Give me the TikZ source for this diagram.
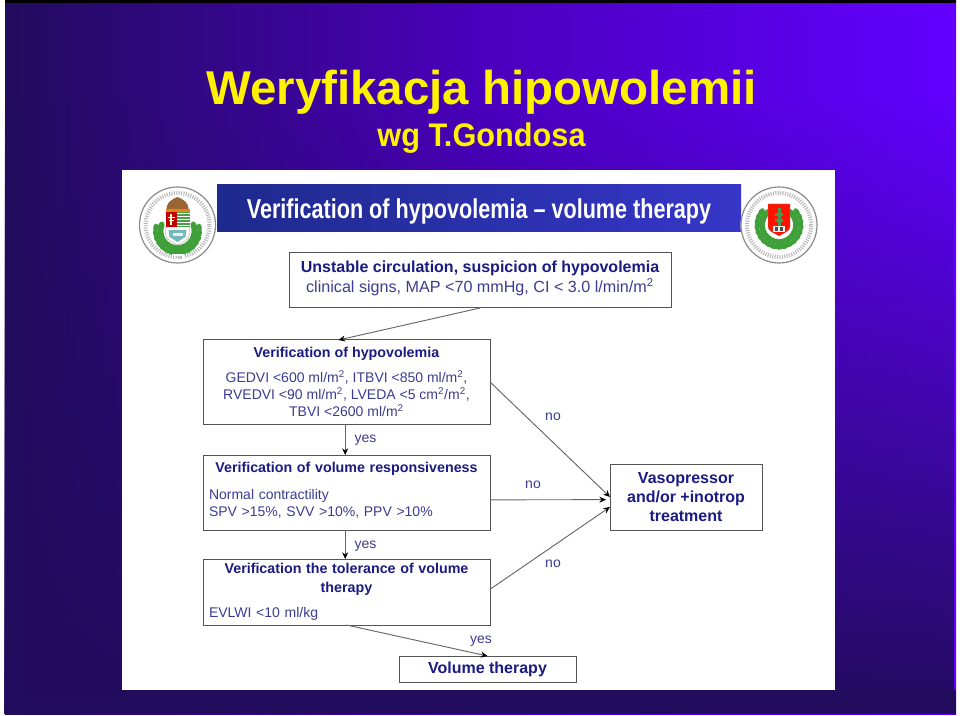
\documentclass[tikz,border=0pt]{standalone}
\usepackage{fontspec}
\usepackage{graphicx}
\setmainfont{Liberation Sans}
\newfontfamily\sealfont{Liberation Serif}
\usetikzlibrary{arrows.meta,fadings,calc}
\definecolor{bgdark}{HTML}{220C5E}
\definecolor{bgmid}{HTML}{4A00BC}
\definecolor{bgbright}{HTML}{6200FF}
\definecolor{barL}{HTML}{1E2A8C}
\definecolor{barR}{HTML}{3636C8}
\definecolor{headc}{HTML}{1B1B82}
\definecolor{bodyc}{HTML}{3C3C92}
\definecolor{linec}{HTML}{666666}
\definecolor{boxc}{HTML}{555555}
\definecolor{laurel}{HTML}{3FA03A}
\definecolor{sealc}{HTML}{8A8A8A}
\tikzfading[name=bgfade,top color=transparent!100,bottom color=transparent!0]
\newcommand{\hd}[1]{{\fontsize{10.7pt}{12.75pt}\selectfont\bfseries\color{headc}#1}}
\newcommand{\hdb}[1]{{\fontsize{12pt}{15pt}\selectfont\bfseries\color{headc}#1}}
\newcommand{\sq}{\textsuperscript{2}}
\tikzset{
  flowbox/.style={draw=boxc,line width=.75pt,fill=white,inner sep=0pt,outer sep=0pt,
    font=\fontsize{10.5pt}{12.75pt}\selectfont,text=bodyc},
  flowarrow/.style={draw=linec,line width=.7pt,-{Stealth[length=5pt,width=4.5pt,color=black]}},
  lab/.style={font=\fontsize{10.5pt}{12pt}\selectfont,text=bodyc,inner sep=0pt},
  titlefont/.style={text=yellow,inner sep=0pt},
  leaf/.style={fill=laurel}
}
% ring and wreath of a seal; #1 = y of wreath centre, #2 = last angle left, #3 = last angle right
\newcommand{\sealring}[3]{%
  \fill[white] (0,0) circle (38.5);
  \draw[sealc,line width=.9pt] (0,0) circle (38);
  \draw[sealc!60,line width=3pt,dash pattern=on .8pt off 1pt] (0,0) circle (32);
  \foreach \aa in {262,248,...,#2} {
    \fill[leaf,shift={(0,#1)},rotate=\aa] (17,0) ellipse (3.2 and 5);
    \fill[leaf,shift={(0,#1)},rotate=\aa+7] (22,0) ellipse (2.6 and 4);
  }
  \foreach \aa in {-82,-68,...,#3} {
    \fill[leaf,shift={(0,#1)},rotate=\aa] (17,0) ellipse (3.2 and 5);
    \fill[leaf,shift={(0,#1)},rotate=\aa-7] (22,0) ellipse (2.6 and 4);
  }
}
\begin{document}
\begin{tikzpicture}[x=.75pt,y=-.75pt]
\useasboundingbox (0,0) rectangle (960,716);
\fill[white] (0,0) rectangle (960,716);
% slide background
\shade[left color=bgdark,right color=bgbright,middle color=bgmid,shading angle=90] (5,0) rectangle (956,714);
\fill[bgdark,path fading=bgfade] (5,100) rectangle (956,714);
\fill[bgdark] (5,690) rectangle (956,714);
\fill[black] (5,0) rectangle (956,3);
% titles
\node[titlefont,font=\fontsize{35.6pt}{40pt}\selectfont\bfseries] (title) at (481.5,92) {Weryfikacja hipowolemii};
\node[titlefont,font=\fontsize{24.5pt}{28pt}\selectfont\bfseries] (subtitle) at (481.5,138) {\scalebox{.94}[1]{wg T.Gondosa}};
% white panel
\fill[white] (122,170) rectangle (835,690);
\shade[left color=barL,right color=barR] (217,185) rectangle (741,232);
\node[inner sep=0pt,text=white,font=\fontsize{20.5pt}{24pt}\selectfont\bfseries] (bar) at (479,211) {\scalebox{.79}[1]{Verification of hypovolemia -- volume therapy}};
% left seal
\begin{scope}[shift={(177.5,225)},x=.75pt,y=.75pt]
  \sealring{-6}{164}{16}
  \fill[white] (-6,-36) rectangle (6,-29);
  \node[inner sep=0pt,font=\fontsize{3.6pt}{4pt}\sealfont\bfseries,text=sealc] (sealyear) at (0,-32.5) {1769};
  \fill[white,draw=sealc,line width=.2pt] (-12,-2) -- (12,-2) -- (12,-9) .. controls (12,-15) and (5,-17) .. (0,-20) .. controls (-5,-17) and (-12,-15) .. (-12,-9) -- cycle;
  \fill[teal!55] (-9,-5) -- (9,-5) -- (8,-12) -- (0,-17) -- (-8,-12) -- cycle;
  \fill[white!85!gray] (-5,-11) rectangle (5,-8);
  \fill[red!75!black] (-12,-2) rectangle (-1,13);
  \fill[white!85!yellow] (-7.2,0) rectangle (-5.8,11);
  \fill[white!85!yellow] (-10,6.5) rectangle (-3,7.8);
  \fill[white!85!yellow] (-9,3.5) rectangle (-4,4.6);
  \fill[green!45!black!70] (-1,-2) rectangle (12,13);
  \foreach \yy in {0,3,6,9,12} \draw[white,line width=.5pt] (-1,\yy) -- (12,\yy);
  \fill[brown!80!black] (-11,13) .. controls (-12,23) and (-5,26) .. (0,28) .. controls (5,26) and (12,23) .. (11,13) -- cycle;
  \fill[orange!70!brown] (-12,13) rectangle (12,16);
\end{scope}
% right seal
\begin{scope}[shift={(779,225)},x=.75pt,y=.75pt]
  \sealring{0}{136}{44}
  \fill[red!85!orange,draw=sealc,line width=.2pt] (-11,21) -- (11,21) -- (11,-2) .. controls (11,-6) and (5,-8) .. (0,-11) .. controls (-5,-8) and (-11,-6) .. (-11,-2) -- cycle;
  \fill[green!40!black!70] (-1.5,17) rectangle (1.5,-2);
  \fill[green!40!black!70] (-4,12) rectangle (4,9);
  \fill[green!40!black!70] (-4,6) rectangle (4,3);
  \fill[white!85!gray] (-6,-7) rectangle (6,-1);
  \fill[black!70] (-4,-6) rectangle (-.7,-2);
  \fill[black!70] (.7,-6) rectangle (4,-2);
\end{scope}
% flow boxes
\node[flowbox,align=center,font=\fontsize{12.1pt}{15pt}\selectfont,minimum width=382*.75pt,minimum height=55*.75pt] (unstable) at (480,280.5)
  {\hdb{Unstable circulation, suspicion of hypovolemia}\\clinical signs, MAP <70 mmHg, CI < 3.0 l/min/m\sq\\[-9.7pt]\mbox{}};
\node[flowbox,align=center,minimum width=287*.75pt,minimum height=84*.75pt] (hypo) at (346.5,382)
  {\hd{Verification of hypovolemia}\\[6pt]GEDVI <600 ml/m\sq, ITBVI <850 ml/m\sq,\\RVEDVI <90 ml/m\sq, LVEDA <5 cm\sq/m\sq,\\TBVI <2600 ml/m\sq};
\node[flowbox,align=left,text width=275*.75pt,minimum width=287*.75pt,minimum height=75*.75pt] (resp) at (346.5,492.5)
  {\makebox[\linewidth][c]{\hd{Verification of volume responsiveness}}\\[7pt]Normal contractility\\SPV >15\%, SVV >10\%, PPV >10\%\\[-8pt]\mbox{}};
\node[flowbox,align=left,text width=275*.75pt,minimum width=287*.75pt,minimum height=66*.75pt] (toler) at (346.5,592)
  {\makebox[\linewidth][c]{\hd{Verification the tolerance of volume}}\\[1pt]\makebox[\linewidth][c]{\hd{therapy}}\\[6.5pt]EVLWI <10 ml/kg};
\node[flowbox,minimum width=177*.75pt,minimum height=26*.75pt,font=\fontsize{12pt}{14pt}\selectfont\bfseries,text=headc] (volume) at (487.5,669) {\raisebox{-1.2pt}{Volume therapy}};
\node[flowbox,align=center,minimum width=152*.75pt,minimum height=66*.75pt,font=\fontsize{12pt}{14.5pt}\selectfont\bfseries,text=headc] (vaso) at (686,497) {Vasopressor\\and/or +inotrop\\treatment};
% connectors
\draw[flowarrow] (unstable.south) -- ([xshift=-6pt]hypo.north);
\draw[flowarrow] ([xshift=-1pt]hypo.south) -- ([xshift=-1pt]resp.north);
\draw[flowarrow] ([xshift=-1pt]resp.south) -- ([xshift=-1pt]toler.north);
\draw[flowarrow] (hypo.east) -- (vaso.west);
\draw[flowarrow] ([yshift=-5.5pt]resp.east) -- ([yshift=-2pt,xshift=-3pt]vaso.west);
\draw[flowarrow] ([yshift=2pt]toler.east) -- ([yshift=-7.5pt]vaso.west);
\draw[flowarrow] (toler.south) -- (volume.north);
% labels
\node[lab] (l1) at (365.5,440.5) {yes};
\node[lab] (l2) at (365.5,546) {yes};
\node[lab] (l3) at (553,417) {no};
\node[lab] (l4) at (533,485) {no};
\node[lab] (l5) at (553,564) {no};
\node[lab] (l6) at (481,641) {yes};
\end{tikzpicture}
\end{document}
